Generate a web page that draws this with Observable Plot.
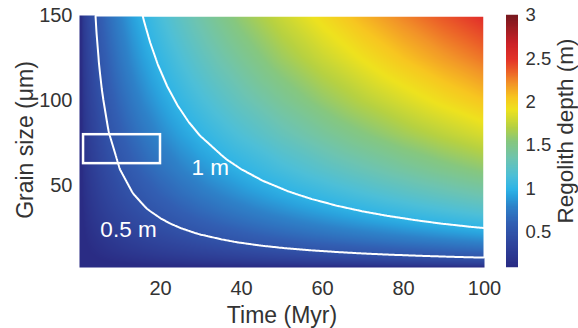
<!DOCTYPE html>
<html>
<head>
<meta charset="utf-8">
<script src="https://cdn.jsdelivr.net/npm/d3@7"></script>
<script src="https://cdn.jsdelivr.net/npm/@observablehq/plot@0.6"></script>
<style>
  html, body { margin: 0; padding: 0; background: #fff; }
  #wrap { position: relative; width: 578px; height: 328px; overflow: hidden;
          font-family: "Liberation Sans", Arial, sans-serif; color: #333; }
  #wrap svg { position: absolute; top: 0; }
  .lbl { position: absolute; font-size: 23px; white-space: nowrap; color: #333; line-height: 1;
         font-family: "Liberation Sans", Arial, sans-serif; }
</style>
</head>
<body>
<div id="wrap"></div>
<script>
// Time axis samples (Myr)
const times = [0, 1, 2, 3, 5, 7, 10, 13, 16, 20, 25, 30, 35, 40, 50, 60, 70, 80, 90, 100];
// Grain size samples (µm)
const grainSizes = [2, 3, 4, 6, 8, 10, 13, 17, 22, 28, 35, 45, 60, 80, 100, 125, 150];
// Regolith depth (m): one row per time, one column per grain size (read from the colour field)
const depth = [
  [0, 0, 0, 0, 0, 0, 0, 0, 0, 0, 0, 0, 0, 0, 0, 0, 0],
  [0, 0.021, 0.029, 0.042, 0.051, 0.059, 0.069, 0.081, 0.093, 0.106, 0.120, 0.137, 0.159, 0.184, 0.206, 0.231, 0.253],
  [0, 0.029, 0.042, 0.059, 0.072, 0.083, 0.098, 0.114, 0.132, 0.150, 0.169, 0.193, 0.224, 0.260, 0.292, 0.327, 0.358],
  [0, 0.036, 0.051, 0.072, 0.088, 0.102, 0.120, 0.140, 0.161, 0.184, 0.207, 0.237, 0.275, 0.319, 0.357, 0.400, 0.439],
  [0, 0.047, 0.066, 0.093, 0.114, 0.132, 0.155, 0.180, 0.208, 0.238, 0.268, 0.305, 0.355, 0.411, 0.461, 0.517, 0.567],
  [0, 0.055, 0.078, 0.110, 0.135, 0.156, 0.183, 0.213, 0.247, 0.281, 0.317, 0.361, 0.420, 0.487, 0.546, 0.611, 0.671],
  [0, 0.066, 0.093, 0.132, 0.161, 0.186, 0.219, 0.255, 0.295, 0.336, 0.378, 0.432, 0.502, 0.582, 0.652, 0.731, 0.801],
  [0, 0.075, 0.106, 0.150, 0.184, 0.212, 0.249, 0.291, 0.336, 0.383, 0.432, 0.493, 0.572, 0.663, 0.744, 0.833, 0.914],
  [0, 0.083, 0.118, 0.167, 0.204, 0.236, 0.276, 0.323, 0.373, 0.425, 0.479, 0.546, 0.635, 0.736, 0.825, 0.924, 1.014],
  [0, 0.093, 0.132, 0.186, 0.228, 0.264, 0.309, 0.361, 0.417, 0.475, 0.535, 0.611, 0.710, 0.823, 0.922, 1.033, 1.133],
  [0, 0.104, 0.147, 0.208, 0.255, 0.295, 0.345, 0.403, 0.466, 0.531, 0.598, 0.683, 0.793, 0.920, 1.031, 1.155, 1.267],
  [0, 0.114, 0.161, 0.228, 0.280, 0.323, 0.378, 0.442, 0.510, 0.582, 0.656, 0.748, 0.869, 1.008, 1.130, 1.266, 1.388],
  [0, 0.123, 0.174, 0.247, 0.302, 0.349, 0.409, 0.477, 0.551, 0.628, 0.708, 0.808, 0.939, 1.089, 1.220, 1.367, 1.499],
  [0, 0.132, 0.186, 0.264, 0.323, 0.373, 0.437, 0.510, 0.589, 0.672, 0.757, 0.864, 1.003, 1.164, 1.304, 1.461, 1.603],
  [0, 0.147, 0.208, 0.295, 0.361, 0.417, 0.489, 0.571, 0.659, 0.751, 0.846, 0.966, 1.122, 1.301, 1.458, 1.634, 1.792],
  [0, 0.161, 0.228, 0.323, 0.395, 0.456, 0.535, 0.625, 0.722, 0.823, 0.927, 1.058, 1.229, 1.425, 1.598, 1.790, 1.963],
  [0, 0.174, 0.247, 0.349, 0.427, 0.493, 0.578, 0.675, 0.780, 0.889, 1.001, 1.143, 1.327, 1.539, 1.726, 1.933, 2.121],
  [0, 0.186, 0.264, 0.373, 0.456, 0.527, 0.618, 0.722, 0.833, 0.950, 1.070, 1.222, 1.419, 1.646, 1.845, 2.067, 2.267],
  [0, 0.198, 0.280, 0.395, 0.484, 0.559, 0.656, 0.765, 0.884, 1.008, 1.135, 1.296, 1.505, 1.746, 1.957, 2.192, 2.404],
  [0, 0.208, 0.295, 0.417, 0.510, 0.589, 0.691, 0.807, 0.932, 1.062, 1.197, 1.366, 1.587, 1.840, 2.062, 2.311, 2.534]
];
const contourLevels = [0.5, 1];
const contourLabels = [
  {t: 12.1, d: 24.3, text: "0.5 m"},
  {t: 32.3, d: 60.7, text: "1 m"}
];
const sampleBox = {t1: 1, t2: 20, d1: 63, d2: 80};
const xTicks = [20, 40, 60, 80, 100];
const yTicks = [50, 100, 150];
const cbTicks = [0.5, 1, 1.5, 2, 2.5, 3];
const colorStops = [0.1, 0.4, 0.6, 0.8, 0.92, 1.0, 1.15, 1.35, 1.55, 1.72, 1.92, 2.06, 2.22, 2.36, 2.5, 2.68, 3.0];
const colorValues = ["#2a2c84", "#3049a0", "#325fb3", "#2e82c9", "#2aa2dd", "#2fb4e6", "#4dbfd8",
                     "#6ec4b0", "#86c77f", "#b6d142", "#eee21e", "#f7c620", "#f29428", "#ec6228",
                     "#e3342a", "#cc2329", "#7a1a20"];

const grid = [];
times.forEach((t, i) => grainSizes.forEach((d, j) => grid.push({t, d, v: depth[i][j]})));

const colorOpts = {type: "linear", domain: colorStops, range: colorValues, clamp: true};
const font = "'Liberation Sans', Arial, sans-serif";

const main = Plot.plot({
  width: 578, height: 328,
  marginLeft: 79, marginRight: 94, marginTop: 15, marginBottom: 61,
  style: {fontFamily: font, fontSize: "20px", color: "#333", background: "transparent"},
  x: {domain: [0, 100]},
  y: {domain: [2, 150]},
  color: colorOpts,
  marks: [
    Plot.raster(grid, {x: "t", y: "d", fill: "v", interpolate: "barycentric",
                       x1: 0, x2: 100, y1: 2, y2: 150, pixelSize: 1}),
    Plot.contour(grid, {x: "t", y: "d", value: "v", interpolate: "barycentric",
                        x1: 0, x2: 100, y1: 2, y2: 150, pixelSize: 1,
                        thresholds: contourLevels, fill: "none", stroke: "white", strokeWidth: 2}),
    Plot.rect([sampleBox], {x1: "t1", x2: "t2", y1: "d1", y2: "d2",
                            fill: "none", stroke: "white", strokeWidth: 2.5}),
    Plot.text(contourLabels, {x: "t", y: "d", text: "text", fill: "white",
                              fontSize: 22.5, fontFamily: font}),
    Plot.axisX({ticks: xTicks, tickSize: 0, tickPadding: 13, label: null}),
    Plot.axisY({ticks: yTicks, tickSize: 0, tickPadding: 7, label: null})
  ]
});
main.style.left = "0px";

const cbVals = d3.range(0.1, 3.0001, 0.005);
const cb = Plot.plot({
  width: 88, height: 328,
  marginLeft: 16, marginRight: 60, marginTop: 15, marginBottom: 62,
  style: {fontFamily: font, fontSize: "18.5px", color: "#333", background: "transparent"},
  y: {domain: [0.1, 3]},
  color: colorOpts,
  marks: [
    Plot.ruleY(cbVals, {y: d => d, stroke: d => d, strokeWidth: 1.5}),
    Plot.axisY({anchor: "right", ticks: cbTicks, tickFormat: d => String(d),
                tickSize: 0, tickPadding: 7, label: null})
  ]
});
cb.style.left = "490px";

const wrap = document.getElementById("wrap");
wrap.appendChild(main);
wrap.appendChild(cb);

function addLabel(text, cx, cy, rot, size) {
  const el = document.createElement("div");
  el.className = "lbl";
  el.textContent = text;
  el.style.left = cx + "px";
  el.style.top = cy + "px";
  if (size) el.style.fontSize = size + "px";
  el.style.transform = "translate(-50%, -50%)" + (rot ? " rotate(-90deg)" : "");
  wrap.appendChild(el);
}
addLabel("Time (Myr)", 282, 315, false);
addLabel("Grain size (μm)", 25, 140, true);
addLabel("Regolith depth (m)", 565.5, 131, true, 22.5);
</script>
</body>
</html>
